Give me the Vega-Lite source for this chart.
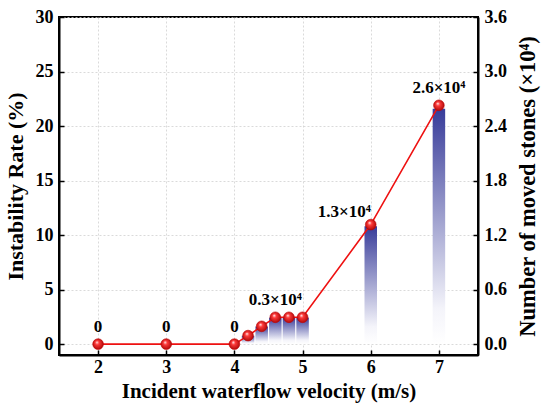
{
  "$schema": "https://vega.github.io/schema/vega-lite/v6.json",
  "width": 419,
  "height": 338,
  "autosize": "none",
  "padding": {"left": 59, "top": 17, "right": 72, "bottom": 58},
  "background": "white",
  "config": {
    "view": {"stroke": "black", "strokeWidth": 2},
    "font": "Liberation Serif",
    "axis": {
      "labelFont": "Liberation Serif",
      "labelFontWeight": "bold",
      "labelFontSize": 18,
      "labelColor": "black",
      "titleFont": "Liberation Serif",
      "titleFontWeight": "bold",
      "titleFontSize": 21,
      "titleColor": "black",
      "domainColor": "black",
      "domainWidth": 2,
      "tickColor": "black",
      "tickWidth": 1.5,
      "tickSize": -5,
      "labelPadding": 11,
      "gridColor": "#d0d0d0",
      "gridDash": [2, 2],
      "gridWidth": 0.8
    }
  },
  "data": {
    "values": [
      {"v": 2, "rate": 0, "count": null, "label": "0"},
      {"v": 3, "rate": 0, "count": null, "label": "0"},
      {"v": 4, "rate": 0, "count": null, "label": "0"},
      {"v": 4.2, "rate": 0.78, "count": 0.092, "label": ""},
      {"v": 4.4, "rate": 1.63, "count": 0.193, "label": ""},
      {"v": 4.6, "rate": 2.46, "count": 0.291, "label": "0.3×10⁴"},
      {"v": 4.8, "rate": 2.46, "count": 0.291, "label": ""},
      {"v": 5, "rate": 2.46, "count": 0.291, "label": ""},
      {"v": 6, "rate": 10.96, "count": 1.297, "label": "1.3×10⁴"},
      {"v": 7, "rate": 21.9, "count": 2.59, "label": "2.6×10⁴"}
    ]
  },
  "encoding": {
    "x": {
      "field": "v",
      "type": "quantitative",
      "scale": {"domain": [1.5, 7.5], "nice": false, "zero": false},
      "axis": {
        "title": "Incident waterflow velocity (m/s)",
        "values": [2, 3, 4, 5, 6, 7],
        "format": "d",
        "grid": true,
        "labelPadding": 8,
        "titlePadding": 4
      }
    }
  },
  "layer": [
    {
      "transform": [{"filter": "datum.count != null"}],
      "mark": {
        "type": "bar",
        "size": 12.5,
        "color": {
          "gradient": "linear",
          "x1": 0, "y1": 1, "x2": 0, "y2": 0,
          "stops": [
            {"offset": 0, "color": "#ffffff"},
            {"offset": 0.15, "color": "#f4f4fa"},
            {"offset": 1, "color": "#383c9a"}
          ]
        }
      },
      "encoding": {
        "y": {
          "field": "count",
          "type": "quantitative",
          "scale": {"domain": [-0.12, 3.6], "nice": false, "zero": false},
          "axis": {
            "orient": "right",
            "title": "Number of moved stones (×10⁴)",
            "values": [0, 0.6, 1.2, 1.8, 2.4, 3.0, 3.6],
            "format": ".1f",
            "grid": false,
            "titleAngle": 270,
            "titleBaseline": "top",
            "titleFontSize": 22.5,
            "titlePadding": 10
          }
        }
      }
    },
    {
      "encoding": {
        "y": {
          "field": "rate",
          "type": "quantitative",
          "scale": {"domain": [-1, 30], "nice": false, "zero": false},
          "axis": {
            "orient": "left",
            "title": "Instability Rate (%)",
            "values": [0, 5, 10, 15, 20, 25, 30],
            "grid": true,
            "titleFontSize": 22,
            "titlePadding": 8
          }
        }
      },
      "layer": [
        {
          "mark": {"type": "line", "color": "#ee1111", "strokeWidth": 1.6}
        },
        {
          "mark": {
            "type": "point",
            "filled": true,
            "shape": "circle",
            "size": 115,
            "opacity": 1,
            "stroke": "#c00000",
            "strokeWidth": 0.6,
            "fill": {
              "gradient": "radial",
              "x1": 0.38, "y1": 0.32, "r1": 0,
              "x2": 0.5, "y2": 0.5, "r2": 0.6,
              "stops": [
                {"offset": 0, "color": "#ffffff"},
                {"offset": 0.3, "color": "#ff3a3a"},
                {"offset": 1, "color": "#a00000"}
              ]
            }
          }
        },
        {
          "transform": [{"filter": "datum.label != '' && datum.v != 6"}],
          "mark": {
            "type": "text",
            "font": "Liberation Serif",
            "fontWeight": "bold",
            "fontSize": 17,
            "align": "center",
            "baseline": "bottom",
            "dy": -8,
            "color": "black"
          },
          "encoding": {"text": {"field": "label"}}
        },
        {
          "transform": [{"filter": "datum.v == 6"}],
          "mark": {
            "type": "text",
            "font": "Liberation Serif",
            "fontWeight": "bold",
            "fontSize": 17,
            "align": "right",
            "baseline": "bottom",
            "dx": 0,
            "dy": -4,
            "color": "black"
          },
          "encoding": {"text": {"field": "label"}}
        },
        {
          "data": {"values": [{"note": "Total numbers = 1.18324×10⁵"}]},
          "mark": {
            "type": "text",
            "font": "Liberation Serif",
            "fontWeight": "bold",
            "fontSize": 18,
            "align": "left",
            "baseline": "middle",
            "color": "black"
          },
          "encoding": {
            "x": {"datum": 1.64},
            "y": {"datum": 27.7},
            "text": {"field": "note"}
          }
        }
      ]
    }
  ],
  "resolve": {"scale": {"y": "independent"}}
}
